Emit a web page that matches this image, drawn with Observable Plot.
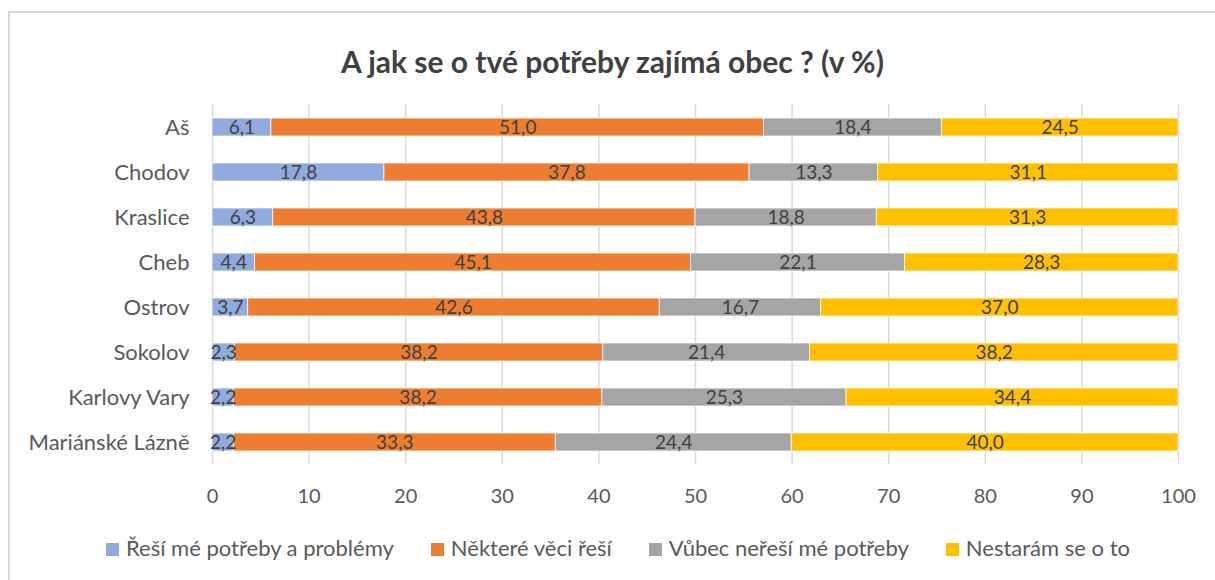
<!DOCTYPE html>
<html>
<head>
<meta charset="utf-8">
<script src="https://cdn.jsdelivr.net/npm/d3@7"></script>
<script src="https://cdn.jsdelivr.net/npm/@observablehq/plot@0.6"></script>
<style>
  html, body { margin: 0; padding: 0; background: #fff; }
  body { width: 1215px; height: 580px; position: relative; overflow: hidden; font-family: Lato, "Open Sans", sans-serif; }
  #frame { position: absolute; left: 8px; top: 11px; width: 1400px; height: 800px; border: 2px solid #d9d9d9; box-sizing: border-box; }
  #title { position: absolute; left: 0; width: 1225px; top: 43px; line-height: 36px; text-align: center; font-size: 30px; font-weight: bold; color: #404040; }
  #chart { position: absolute; left: 0; top: 0; }
  #legend { position: absolute; left: 106px; top: 535px; display: flex; gap: 37px; font-size: 22px; line-height: 26px; color: #595959; white-space: nowrap; }
  #legend .item { display: flex; align-items: center; }
  #legend .sw { width: 13px; height: 13px; margin-right: 7px; margin-top: 2px; }
</style>
</head>
<body>
<div id="frame"></div>
<div id="title">A jak se o tvé potřeby zajímá obec ? (v %)</div>
<div id="chart"></div>
<div id="legend"></div>
<script>
const cities = ["Aš", "Chodov", "Kraslice", "Cheb", "Ostrov", "Sokolov", "Karlovy Vary", "Mariánské Lázně"];
const series = ["Řeší mé potřeby a problémy", "Některé věci řeší", "Vůbec neřeší mé potřeby", "Nestarám se o to"];
const colors = ["#8faadc", "#ed7d31", "#a5a5a5", "#ffc000"];
const resi =      [6.1, 17.8, 6.3, 4.4, 3.7, 2.3, 2.2, 2.2];
const nektere =   [51.0, 37.8, 43.8, 45.1, 42.6, 38.2, 38.2, 33.3];
const vubec =     [18.4, 13.3, 18.8, 22.1, 16.7, 21.4, 25.3, 24.4];
const nestaram =  [24.5, 31.1, 31.3, 28.3, 37.0, 38.2, 34.4, 40.0];
const xTicks = [0, 10, 20, 30, 40, 50, 60, 70, 80, 90, 100];

const valuesBySeries = [resi, nektere, vubec, nestaram];
const data = [];
series.forEach((s, si) => {
  cities.forEach((c, ci) => {
    data.push({city: c, series: s, value: valuesBySeries[si][ci]});
  });
});

const fmt = v => v.toFixed(1).replace(".", ",");
const tickPos = xTicks.map(d => d / 100);

const chart = Plot.plot({
  width: 1215,
  height: 520,
  marginLeft: 212,
  marginRight: 37,
  marginTop: 104,
  marginBottom: 56,
  style: { fontFamily: "Lato, 'Open Sans', sans-serif", background: "transparent" },
  x: { domain: [0, 1], ticks: tickPos, label: null },
  y: { domain: cities, paddingInner: 0.6, paddingOuter: 0.3, label: null },
  color: { domain: series, range: colors },
  marks: [
    Plot.ruleX(tickPos, { stroke: "#d9d9d9", strokeWidth: 1.5, strokeOpacity: 1 }),
    Plot.barX(data, Plot.stackX({ x: "value", y: "city", fill: "series", z: "series", order: series, offset: "normalize", stroke: "white", strokeWidth: 0.75 })),
    Plot.text(data, Plot.stackX({ x: "value", y: "city", z: "series", order: series, offset: "normalize", text: d => fmt(d.value), fill: "#404040", fontSize: 19 })),
    Plot.axisX({ ticks: tickPos, tickFormat: d => Math.round(d * 100), tickSize: 0, tickPadding: 24, fontSize: 20, fill: "#595959", label: null }),
    Plot.axisY({ tickSize: 0, tickPadding: 23, fontSize: 22, fill: "#595959", label: null })
  ]
});
document.getElementById("chart").appendChild(chart);

const legend = document.getElementById("legend");
series.forEach((s, i) => {
  const item = document.createElement("div");
  item.className = "item";
  const sw = document.createElement("span");
  sw.className = "sw";
  sw.style.background = colors[i];
  const t = document.createElement("span");
  t.textContent = s;
  item.appendChild(sw);
  item.appendChild(t);
  legend.appendChild(item);
});
</script>
</body>
</html>
